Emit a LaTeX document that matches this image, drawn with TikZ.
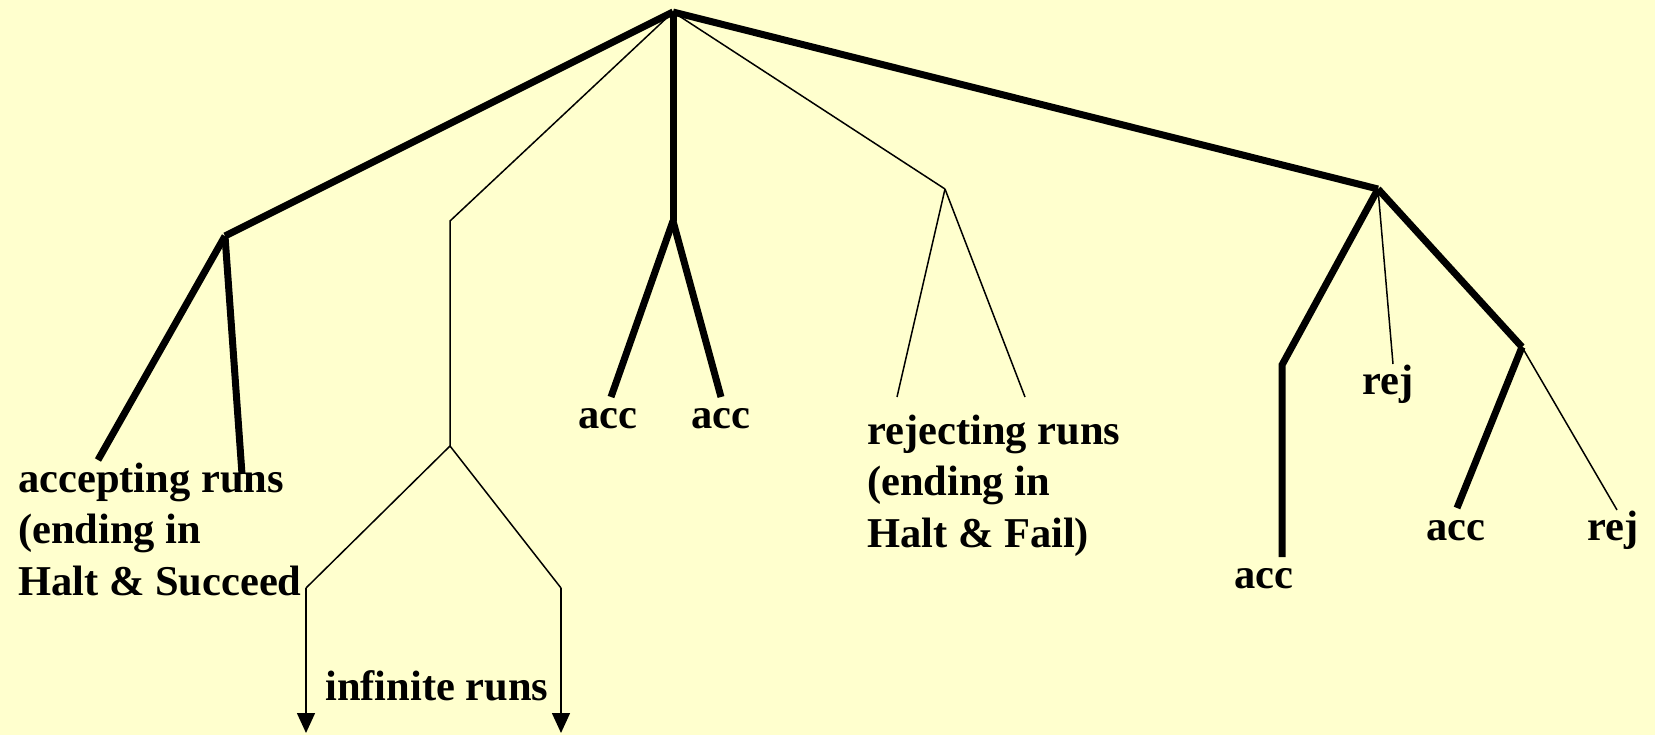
\documentclass[tikz,border=0pt]{standalone}
\usepackage{fontspec}
\setmainfont{Liberation Serif}
\usetikzlibrary{arrows.meta}
\definecolor{bgyellow}{RGB}{255,255,206}
\tikzset{
  heavy/.style={line width=7pt, line cap=butt, line join=miter},
  light/.style={line width=1.5pt},
  infarrow/.style={light, -{Triangle[width=18pt,length=20pt]}},
  lbl/.style={font=\fontsize{42.5}{51.5}\selectfont\bfseries, inner sep=0pt, anchor=base west, align=left}
}
\begin{document}
\begin{tikzpicture}[x=1pt,y=-1pt]
\fill[bgyellow] (0,0) rectangle (1655,735);
\useasboundingbox (0,0) rectangle (1655,735);
% tree points
\coordinate (R) at (673,12);
\coordinate (A) at (225,236);
\coordinate (A1) at (98,460);
\coordinate (A2) at (242,474);
\coordinate (B) at (450,221);
\coordinate (B2) at (450,446);
\coordinate (B3) at (306,588);
\coordinate (B4) at (561,588);
\coordinate (B3e) at (306,733);
\coordinate (B4e) at (561,733);
\coordinate (C) at (673,221);
\coordinate (C1) at (611,397);
\coordinate (C2) at (721,397);
\coordinate (D) at (945,189);
\coordinate (D1) at (897,397);
\coordinate (D2) at (1025,397);
\coordinate (E) at (1378,189);
\coordinate (E1) at (1282,365);
\coordinate (E1e) at (1282,557);
\coordinate (E2) at (1393,364);
\coordinate (F) at (1522,347);
\coordinate (F1) at (1457,508);
\coordinate (F2) at (1617,510);
% edges
\draw[heavy] (R) -- (A);
\draw[heavy] (A) -- (A1);
\draw[heavy] (A) -- (A2);
\draw[light] (R) -- (B) -- (B2);
\draw[light] (B2) -- (B3);
\draw[light] (B2) -- (B4);
\draw[infarrow] (B3) -- (B3e);
\draw[infarrow] (B4) -- (B4e);
\draw[heavy] (R) -- (C);
\draw[heavy] (C) -- (C1);
\draw[heavy] (C) -- (C2);
\draw[light] (R) -- (D);
\draw[light] (D) -- (D1);
\draw[light] (D) -- (D2);
\draw[heavy] (R) -- (E);
\draw[heavy] (E) -- (E1) -- (E1e);
\draw[light] (E) -- (E2);
\draw[heavy] (E) -- (F);
\draw[heavy] (F) -- (F1);
\draw[light] (F) -- (F2);
% labels (multi-line nodes are anchored at the baseline of their last line)
\node[lbl] (tacc) at (18,595) {accepting runs\\(ending in\\Halt \& Succeed};
\node[lbl] (tinf) at (325,700) {infinite runs};
\node[lbl] (tc1) at (578,428) {acc};
\node[lbl] (tc2) at (691,428) {acc};
\node[lbl] (trej) at (867,547) {rejecting runs\\(ending in\\Halt \& Fail)};
\node[lbl] (te1) at (1234,588) {acc};
\node[lbl] (te2) at (1362,395) {rej};
\node[lbl] (tf1) at (1426,540) {acc};
\node[lbl] (tf2) at (1587,540) {rej};
\end{tikzpicture}
\end{document}
